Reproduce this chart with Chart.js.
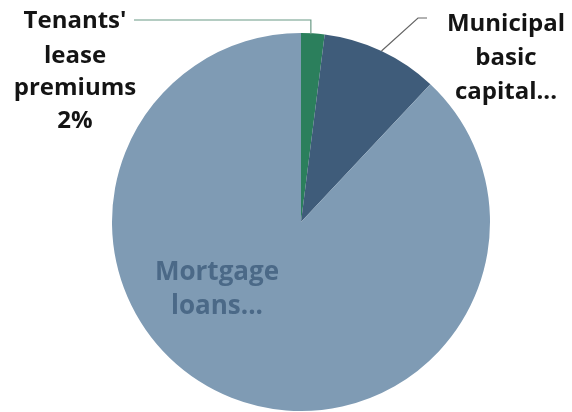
<!DOCTYPE html>
<html>
<head>
<meta charset="utf-8">
<script src="https://cdn.jsdelivr.net/npm/chart.js@4.4.1/dist/chart.umd.min.js"></script>
<style>
  html, body { margin: 0; padding: 0; background: #fff; }
  #wrap { width: 572px; height: 412px; }
</style>
</head>
<body>
<div id="wrap"><canvas id="myChart"></canvas></div>
<script>
var categories = ["Tenants' lease premiums", "Municipal basic capital", "Mortgage loans"];
var shares = [2, 10, 88];
var sliceColors = ["#2b7f5c", "#3f5c7a", "#7f9bb4"];

// label text per slice (lines)
var labelLines = [
  ["Tenants'", "lease", "premiums", "2%"],
  ["Municipal", "basic", "capital..."],
  ["Mortgage", "loans..."]
];

var labelPlugin = {
  id: "sliceLabels",
  afterDraw: function (chart) {
    var ctx = chart.ctx;
    var arcs = chart.getDatasetMeta(0).data;
    ctx.save();
    ctx.textAlign = "center";
    ctx.textBaseline = "middle";

    // leader line for the small green slice
    var a0 = arcs[0];
    var m0 = (a0.startAngle + a0.endAngle) / 2;
    var p0x = a0.x + Math.cos(m0) * a0.outerRadius;
    var p0y = a0.y + Math.sin(m0) * a0.outerRadius;
    ctx.strokeStyle = "#6a9a86";
    ctx.lineWidth = 1.2;
    ctx.beginPath();
    ctx.moveTo(p0x - 2, p0y + 1);
    ctx.lineTo(p0x - 2, 20);
    ctx.lineTo(134, 20);
    ctx.stroke();

    // leader line for municipal slice
    var a1 = arcs[1];
    var m1 = (a1.startAngle + a1.endAngle) / 2;
    var p1x = a1.x + Math.cos(m1) * a1.outerRadius;
    var p1y = a1.y + Math.sin(m1) * a1.outerRadius;
    ctx.strokeStyle = "#666";
    ctx.beginPath();
    ctx.moveTo(p1x, p1y);
    ctx.lineTo(418, 18);
    ctx.lineTo(427, 18);
    ctx.stroke();

    ctx.fillStyle = "#141414";
    ctx.font = "bold 24px 'Open Sans'";
    var y0 = [21, 56, 88, 121];
    labelLines[0].forEach(function (t, i) { ctx.fillText(t, 75, y0[i]); });
    var y1 = [24, 58, 92];
    labelLines[1].forEach(function (t, i) { ctx.fillText(t, 506, y1[i]); });

    ctx.fillStyle = "#4b6987";
    ctx.font = "bold 26px 'Open Sans'";
    var y2 = [273, 307];
    labelLines[2].forEach(function (t, i) { ctx.fillText(t, 217, y2[i]); });
    ctx.restore();
  }
};

var ctx = document.getElementById("myChart").getContext("2d");
var pieChart = new Chart(ctx, {
  type: "pie",
  data: {
    labels: categories,
    datasets: [
      {
        data: shares,
        backgroundColor: sliceColors,
        borderWidth: 0,
        radius: 189,
      },
    ],
  },
  options: {
    responsive: true,
    maintainAspectRatio: false,
    animation: false,
    layout: { padding: { left: 30, right: 0, top: 32, bottom: 0 } },
    plugins: {
      legend: { display: false },
      tooltip: { enabled: false },
    },
  },
  plugins: [labelPlugin],
});
</script>
</body>
</html>
